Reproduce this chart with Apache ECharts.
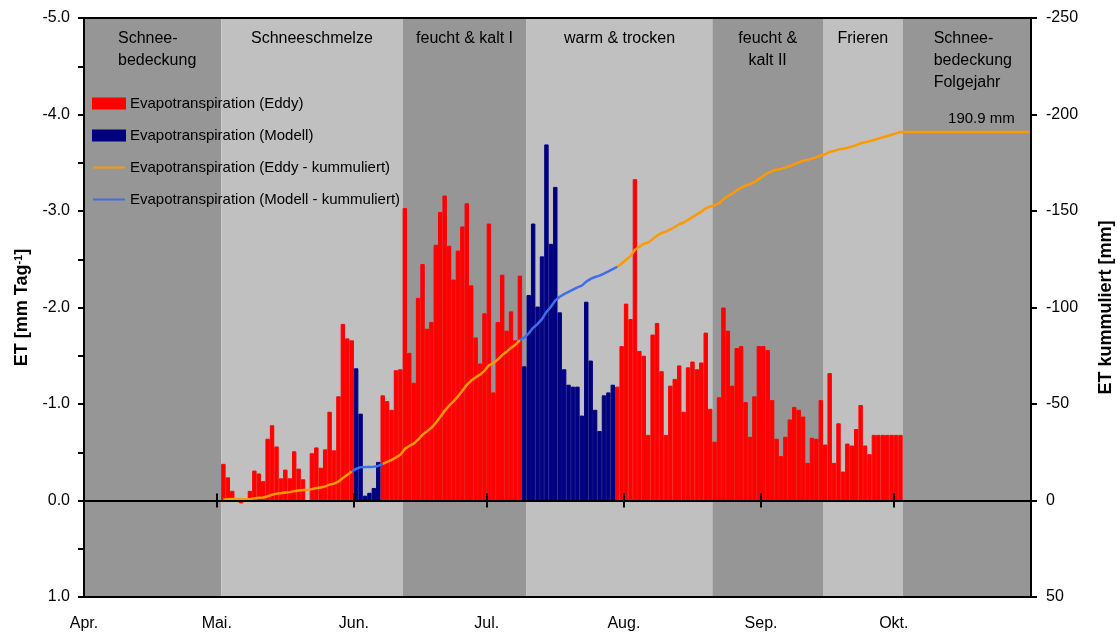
<!DOCTYPE html>
<html>
<head>
<meta charset="utf-8">
<script src="https://cdn.jsdelivr.net/npm/echarts@6/dist/echarts.min.js"></script>
<style>
  html, body { margin: 0; padding: 0; background: #ffffff; }
  #chart { width: 1117px; height: 635px; }
</style>
</head>
<body>
<div id="chart"></div>
<script>
// Season Apr. – Okt., one category per day
const monthNames   = ['Apr.', 'Mai.', 'Jun.', 'Jul.', 'Aug.', 'Sep.', 'Okt.'];
const monthLengths = [30, 31, 30, 31, 31, 30, 31];

// Daily evapotranspiration [mm Tag-1] (negative = loss), indexed by day of month; null = no value
const etApr = [];
const etMay = [null, -0.38, -0.24, -0.10, 0, 0.03, 0, -0.10, -0.31, -0.28,
               -0.20, -0.64, -0.78, -0.56, -0.23, -0.32, -0.23, -0.51, -0.33, -0.22,
               0, -0.49, -0.55, -0.34, -0.53, -0.92, -0.52, -1.08, -1.83, -1.68, -1.66];
const etJun = [-1.37, -0.90, -0.05, -0.08, -0.13, -0.40, -1.09, -1.03, -0.94, -1.35,
               -1.36, -3.03, -1.53, -1.22, -2.10, -2.45, -1.78, -1.85, -2.65, -2.99,
               -3.16, -2.64, -2.29, -2.59, -2.84, -3.08, -2.23, -1.69, -1.42, -1.94];
const etJul = [-2.87, -1.12, -1.85, -2.34, -1.76, -1.96, -1.66, -2.33, -1.39, -2.13,
               -2.87, -2.01, -2.53, -3.69, -2.66, -3.25, -1.95, -1.36, -1.20, -1.18,
               -1.18, -0.88, -2.06, -1.45, -0.94, -0.72, -1.09, -1.12, -1.20, -1.18, -1.60];
const etAug = [-2.04, -1.88, -3.33, -1.55, -1.50, -0.68, -1.72, -1.84, -1.34, -0.68,
               -1.19, -1.26, -1.40, -0.92, -1.38, -1.44, -1.36, -1.43, -1.74, -0.95,
               -0.61, -1.07, -2.00, -1.76, -1.19, -1.58, -1.60, -1.02, -0.66, -1.08, -1.60];
const etSep = [-1.60, -1.56, -1.04, -0.64, -0.46, -0.66, -0.84, -0.97, -0.94, -0.87,
               -0.39, -0.65, -0.64, -1.04, -0.58, -1.32, -0.39, -0.80, -0.30, -0.59,
               -0.57, -0.74, -0.99, -0.57, -0.48, -0.68, -0.68, -0.68, -0.68, -0.68];
const etOct = [-0.68, -0.68];

// Gap-filled (modelled) days: [month index, first day, last day]
const modelledDays = [[2, 1, 6], [3, 9, 29]];

// Phases of the season: label and first day [month index, day]
const phaseNames = ['Schnee-\nbedeckung', 'Schneeschmelze', 'feucht & kalt I', 'warm & trocken',
                    'feucht &\nkalt II', 'Frieren', 'Schnee-\nbedeckung\nFolgejahr'];
const phaseStarts = [[0, 1], [1, 2], [2, 12], [3, 10], [4, 21], [5, 15], [6, 3]];

const seriesNames = ['Evapotranspiration (Eddy)', 'Evapotranspiration (Modell)',
                     'Evapotranspiration (Eddy - kummuliert)', 'Evapotranspiration (Modell - kummuliert)'];

// ---- derived tables ----
const FONT = '"Liberation Sans", Arial, Helvetica, sans-serif';
const etByMonth = [etApr, etMay, etJun, etJul, etAug, etSep, etOct];
const monthStart = [];
let nDays = 0;
monthLengths.forEach(len => { monthStart.push(nDays); nDays += len; });
const dayIndex = (m, d) => monthStart[m] + d - 1;

const categories = [];
const et = [];
monthLengths.forEach((len, m) => {
  for (let d = 1; d <= len; d++) {
    categories.push(d + '.' + (m + 4) + '.');
    const v = etByMonth[m][d - 1];
    et.push(v === undefined ? null : v);
  }
});

const isModel = new Array(nDays).fill(false);
modelledDays.forEach(([m, a, b]) => { for (let d = a; d <= b; d++) isModel[dayIndex(m, d)] = true; });

const eddyBars  = et.map((v, i) => (isModel[i] ? null : v));
const modelBars = et.map((v, i) => (isModel[i] ? v : null));

// running sum of the daily values
const cum = [];
let running = 0, started = false;
et.forEach(v => {
  if (v !== null) { running += v; started = true; }
  cum.push(started ? Math.round(running * 1000) / 1000 : null);
});
const total = cum[nDays - 1];

const cumEddy  = cum.map((v, i) => (isModel[i] ? null : v));
const cumModel = cum.map((v, i) => (isModel[i] || isModel[i - 1] || isModel[i + 1] ? v : null));

// phase bands on the day-offset axis
const DARK = '#969696', LIGHT = '#c0c0c0';
const leftAligned = { 0: 34, 6: 31 };
const phaseStartIdx = phaseStarts.map(([m, d]) => dayIndex(m, d));
const bands = phaseNames.map((name, k) => {
  const from = phaseStartIdx[k];
  const to = k + 1 < phaseStartIdx.length ? phaseStartIdx[k + 1] : nDays;
  const label = {
    show: true, formatter: name, color: '#000', fontFamily: FONT, fontSize: 16, lineHeight: 22
  };
  if (leftAligned[k] !== undefined) {
    Object.assign(label, { position: [leftAligned[k], 10], align: 'left', verticalAlign: 'top' });
  } else {
    Object.assign(label, { position: 'insideTop', distance: 10, align: 'center' });
  }
  return [
    { xAxis: from, itemStyle: { color: k % 2 === 0 ? DARK : LIGHT, opacity: 1 }, label },
    { xAxis: to }
  ];
});

const lineStyle = { color: '#000', width: 2 };
const axisFont = { fontFamily: FONT, fontSize: 16, color: '#000' };
const hiddenMarker = { color: 'rgba(0,0,0,0)', borderColor: 'rgba(0,0,0,0)', borderWidth: 0, opacity: 0 };

const chart = echarts.init(document.getElementById('chart'), null, { renderer: 'canvas' });
chart.setOption({
  animation: false,
  backgroundColor: '#ffffff',
  textStyle: { fontFamily: FONT },
  grid: { left: 84, right: 86, top: 18, bottom: 38, containLabel: false, outerBoundsMode: 'none' },
  legend: {
    orient: 'vertical', left: 92, top: 96, padding: 0,
    itemWidth: 32, itemHeight: 10, itemGap: 17,
    selectedMode: false,
    textStyle: { fontFamily: FONT, fontSize: 15, color: '#000' },
    data: [
      { name: seriesNames[0], icon: 'rect' },
      { name: seriesNames[1], icon: 'rect' },
      { name: seriesNames[2], itemStyle: hiddenMarker },
      { name: seriesNames[3], itemStyle: hiddenMarker }
    ]
  },
  xAxis: [
    { type: 'category', data: categories, show: false, boundaryGap: true },
    {
      type: 'value', min: 0, max: nDays, position: 'bottom', z: 5,
      axisLine: { show: true, onZero: false, lineStyle },
      axisTick: { show: false }, splitLine: { show: false },
      axisLabel: {
        customValues: monthStart,
        formatter: v => monthNames[monthStart.indexOf(v)] || '',
        margin: 19, ...axisFont
      }
    },
    {
      type: 'value', min: 0, max: nDays, position: 'top', z: 5,
      axisLine: { show: true, onZero: false, lineStyle },
      axisTick: { show: false }, axisLabel: { show: false }, splitLine: { show: false }
    },
    {
      type: 'value', min: 0, max: nDays, position: 'bottom', z: 5,
      axisLine: { show: true, onZero: true, onZeroAxisIndex: 0, lineStyle },
      axisTick: { show: true, customValues: monthStart.slice(1), length: 7, inside: false, lineStyle },
      axisLabel: { show: false }, splitLine: { show: false }
    },
    {
      type: 'value', min: 0, max: nDays, position: 'bottom', z: 5,
      axisLine: { show: true, onZero: true, onZeroAxisIndex: 0, lineStyle },
      axisTick: { show: true, customValues: monthStart.slice(1), length: 7, inside: true, lineStyle },
      axisLabel: { show: false }, splitLine: { show: false }
    }
  ],
  yAxis: [
    {
      type: 'value', inverse: true, min: -5, max: 1, interval: 0.5, position: 'left', z: 5,
      axisLine: { show: true, onZero: false, lineStyle },
      axisTick: { show: true, length: 6, lineStyle },
      splitLine: { show: false },
      axisLabel: {
        formatter: v => (Number.isInteger(v) ? v.toFixed(1) : ''),
        margin: 14, ...axisFont
      },
      name: '{b|ET [mm Tag}{s|-1}{b|]}',
      nameLocation: 'middle', nameGap: 48,
      nameTextStyle: {
        rich: {
          b: { fontFamily: FONT, fontSize: 18, fontWeight: 'bold', color: '#000' },
          s: { fontFamily: FONT, fontSize: 11, fontWeight: 'bold', color: '#000', verticalAlign: 'top' }
        }
      }
    },
    {
      type: 'value', inverse: true, min: -250, max: 50, interval: 50, position: 'right', z: 5,
      axisLine: { show: true, onZero: false, lineStyle },
      axisTick: { show: true, length: 6, lineStyle },
      splitLine: { show: false },
      axisLabel: { margin: 15, ...axisFont },
      name: 'ET kummuliert [mm]',
      nameLocation: 'middle', nameGap: 66,
      nameTextStyle: { fontFamily: FONT, fontSize: 18, fontWeight: 'bold', color: '#000' }
    }
  ],
  series: [
    {
      type: 'line', name: 'phases', xAxisIndex: 1, yAxisIndex: 0, data: [], silent: true, z: 1,
      markArea: { silent: true, data: bands }
    },
    {
      type: 'bar', name: seriesNames[0], xAxisIndex: 0, yAxisIndex: 0, data: eddyBars, z: 2,
      barWidth: '100%', barGap: '-100%', barCategoryGap: '0%',
      itemStyle: { color: '#ff0000', borderColor: '#ff0000', borderWidth: 1 }
    },
    {
      type: 'bar', name: seriesNames[1], xAxisIndex: 0, yAxisIndex: 0, data: modelBars, z: 2,
      barWidth: '100%', barGap: '-100%', barCategoryGap: '0%',
      itemStyle: { color: '#000080', borderColor: '#000080', borderWidth: 1 }
    },
    {
      type: 'line', name: seriesNames[2], xAxisIndex: 0, yAxisIndex: 1, data: cumEddy, z: 3,
      symbol: 'none', connectNulls: false,
      lineStyle: { color: '#ff9900', width: 2.5 }, itemStyle: { color: '#ff9900' },
      markPoint: {
        symbol: 'circle', symbolSize: 0, silent: true,
        data: [{
          coord: [nDays - 1, total],
          label: {
            show: true, position: 'top', distance: 6, align: 'right', offset: [-14, 0],
            formatter: Math.abs(total).toFixed(1) + ' mm',
            fontFamily: FONT, fontSize: 15, color: '#000'
          }
        }]
      }
    },
    {
      type: 'line', name: seriesNames[3], xAxisIndex: 0, yAxisIndex: 1, data: cumModel, z: 3,
      symbol: 'none', connectNulls: false,
      lineStyle: { color: '#3f6fe8', width: 2.5 }, itemStyle: { color: '#3f6fe8' }
    }
  ]
});
</script>
</body>
</html>
